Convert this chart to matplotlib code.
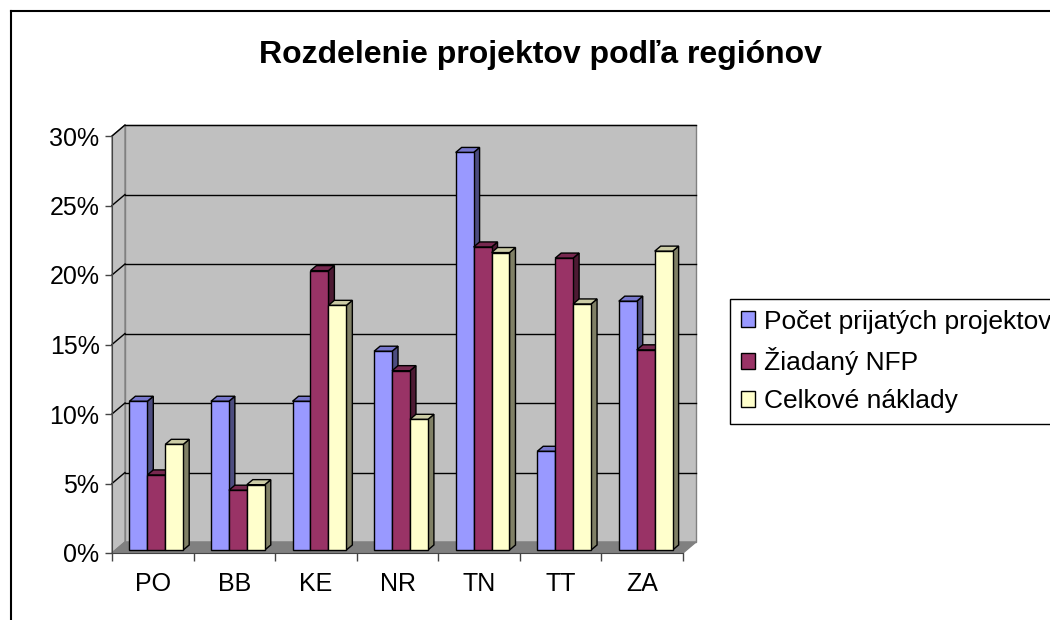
import numpy as np
import matplotlib
matplotlib.use("Agg")
import matplotlib.pyplot as plt
from matplotlib.patches import Polygon, Patch
from matplotlib.lines import Line2D

plt.rcParams['font.family'] = ['Liberation Sans', 'DejaVu Sans']

# data (percent)
regions = ["PO", "BB", "KE", "NR", "TN", "TT", "ZA"]
pocet = [10.7, 10.7, 10.7, 14.3, 28.6, 7.1, 17.9]
nfp = [5.4, 4.3, 20.1, 12.9, 21.8, 21.0, 14.4]
naklady = [7.6, 4.7, 17.6, 9.4, 21.4, 17.7, 21.5]
series_names = ["Počet prijatých projektov", "Žiadaný NFP", "Celkové náklady"]
yticks = [0, 5, 10, 15, 20, 25, 30]

colors = ["#9999FF", "#993366", "#FFFFCC"]
tops = ["#7777CC", "#77284F", "#CCCCA6"]
sides = ["#4D4D80", "#4D1A33", "#808066"]

W, H = 1050, 620
fig = plt.figure(figsize=(W / 100, H / 100), dpi=100)

# front plane of the plot in pixels
x0, x1, y0, y1 = 112, 683, 553, 136
ax = fig.add_axes([x0 / W, 1 - y0 / H, (x1 - x0) / W, (y0 - y1) / H])
n = len(regions)
ax.set_xlim(-0.5, n - 0.5)
ax.set_ylim(0, 30)

# depth offset (oblique projection), in data units
DX = 13 / ((x1 - x0) / n)
DY = 11 / ((y0 - y1) / 30)
xl, xr = -0.5, n - 0.5

# walls and floor
ax.add_patch(Polygon([(xl + DX, DY), (xr + DX, DY), (xr + DX, 30 + DY), (xl + DX, 30 + DY)],
                     closed=True, fc="#C0C0C0", ec="#808080", lw=1, clip_on=False, zorder=0))
ax.add_patch(Polygon([(xl, 0), (xl + DX, DY), (xl + DX, 30 + DY), (xl, 30)],
                     closed=True, fc="#C0C0C0", ec="#808080", lw=1, clip_on=False, zorder=0))
ax.add_patch(Polygon([(xl, 0), (xr, 0), (xr + DX, DY), (xl + DX, DY)],
                     closed=True, fc="#808080", ec="#808080", lw=1, clip_on=False, zorder=0.5))
for v in yticks[1:]:
    ax.plot([xl + DX, xr + DX], [v + DY, v + DY], color="#000000", lw=1, clip_on=False, zorder=0.2)
    ax.plot([xl, xl + DX], [v, v + DY], color="#000000", lw=1, clip_on=False, zorder=0.2)

# 3D-looking bars
bw = 0.22
f0, d = 0.27, 0.46
x = np.arange(n)
for i, vals in enumerate([pocet, nfp, naklady]):
    xs = x + (i - 1) * bw + f0 * DX
    base = f0 * DY
    ax.bar(xs, vals, bw, bottom=base, color=colors[i], edgecolor="black", lw=1,
           zorder=2 + i * 0.1, clip_on=False)
    for xc, v in zip(xs, vals):
        a, b = xc - bw / 2, xc + bw / 2
        t = base + v
        ax.add_patch(Polygon([(b, base), (b + d * DX, base + d * DY), (b + d * DX, t + d * DY), (b, t)],
                             closed=True, fc=sides[i], ec="black", lw=1, clip_on=False,
                             zorder=1.9 + i * 0.1))
        ax.add_patch(Polygon([(a, t), (b, t), (b + d * DX, t + d * DY), (a + d * DX, t + d * DY)],
                             closed=True, fc=tops[i], ec="black", lw=1, clip_on=False,
                             zorder=1.9 + i * 0.1))

# axes
for s in ["top", "right"]:
    ax.spines[s].set_visible(False)
for s in ["left", "bottom"]:
    ax.spines[s].set_color("#444444")
    ax.spines[s].set_zorder(3)
ax.set_yticks(yticks)
ax.set_yticklabels([f"{v}%" for v in yticks], fontsize=18)
ax.tick_params(axis="y", length=5, width=1, color="#444444", pad=4)
ax.set_xticks(x)
ax.set_xticklabels(regions, fontsize=18)
ax.tick_params(axis="x", length=0, pad=14)
ax.set_xticks(np.arange(-0.5, n, 1), minor=True)
ax.tick_params(axis="x", which="minor", length=6, width=1, color="#444444")
ax.set_facecolor("none")

fig.text(540 / W, 1 - 55 / H, "Rozdelenie projektov podľa regiónov", fontsize=23,
         fontweight="bold", ha="center", va="center")

handles = [Patch(fc=c, ec="black", lw=1) for c in colors]
fig.legend(handles, series_names, loc="upper left", bbox_to_anchor=(730 / W, 1 - 299 / H),
           fontsize=19, frameon=True, fancybox=False, edgecolor="black", framealpha=1,
           handlelength=0.55, handleheight=0.55, handletextpad=0.35, labelspacing=0.52,
           borderpad=0.4, borderaxespad=0)

# outer chart frame (extends past the image)
fig.add_artist(Line2D([10.5 / W, 1], [1 - 10.5 / H, 1 - 10.5 / H], color="black", lw=1.5))
fig.add_artist(Line2D([10.5 / W, 10.5 / W], [0, 1 - 10.5 / H], color="black", lw=1.5))

fig.savefig("out.png", dpi=100)
